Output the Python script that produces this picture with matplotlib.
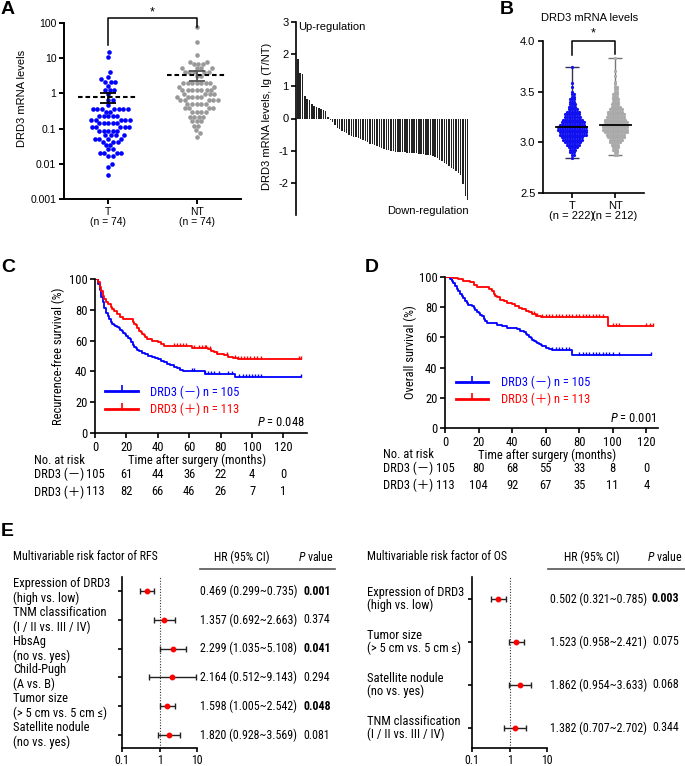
import numpy as np
import matplotlib
matplotlib.use("Agg")
import matplotlib.pyplot as plt
from matplotlib.lines import Line2D
from matplotlib import transforms, font_manager

plt.rcParams['font.family'] = ['Liberation Sans', 'Noto Sans CJK SC', 'DejaVu Sans']
plt.rcParams['axes.unicode_minus'] = False

# narrow face for the lower panels, if the system has one
_names = {f.name for f in font_manager.fontManager.ttflist}
NARROW = ['Liberation Sans', 'Noto Sans CJK SC', 'DejaVu Sans']
NS = 8.0
ITAL = 'Liberation Sans:italic'
for cand in ['Liberation Sans Narrow', 'Arial Narrow', 'Roboto Condensed', 'PT Sans Narrow',
             'Archivo Narrow']:
    if cand in _names:
        NARROW = [cand, 'Noto Sans CJK SC', 'DejaVu Sans']
        NS = 9.0
        ITAL = cand + ':italic'
        break
plt.rcParams['mathtext.fontset'] = 'custom'
plt.rcParams['mathtext.rm'] = NARROW[0]
plt.rcParams['mathtext.it'] = ITAL

# ---- panel A: scatter, DRD3 mRNA levels (value rows, count per row)
a_t_levels = [14.8, 11.0, 4.0, 3.0, 2.5, 2.1, 1.66, 1.26, 0.95, 0.65, 0.47, 0.35, 0.30, 0.23,
              0.17, 0.14, 0.11, 0.087, 0.066, 0.052, 0.043, 0.034, 0.026, 0.020, 0.017,
              0.010, 0.0083, 0.0048]
a_t_counts = [1, 1, 1, 1, 1, 3, 1, 3, 1, 2, 1, 7, 2, 5, 5, 5, 5, 5, 4, 4, 3, 2, 2, 4, 2, 1, 1, 1]
a_nt_levels = [76, 29.5, 12.3, 7.9, 6.8, 5.1, 4.0, 3.2, 2.0, 1.55, 1.26, 0.95, 0.79, 0.63,
               0.50, 0.38, 0.30, 0.21, 0.16, 0.12, 0.091, 0.074, 0.059]
a_nt_counts = [1, 1, 1, 2, 3, 4, 5, 2, 7, 2, 7, 4, 5, 5, 5, 4, 4, 4, 3, 2, 1, 1, 1]

# ---- panel A right: waterfall lg(T/NT)
wf_values = [1.85, 1.42, 1.38, 0.70, 0.60, 0.56, 0.45, 0.40, 0.35, 0.32, 0.30, 0.27, 0.22, 0.05,
             -0.05, -0.12, -0.2, -0.28, -0.33, -0.38, -0.42, -0.46, -0.5, -0.53,
             -0.56, -0.58, -0.61, -0.64, -0.67, -0.7, -0.74, -0.78, -0.8, -0.83,
             -0.86, -0.89, -0.92, -0.95, -0.97, -0.99, -1.0, -1.02, -1.03, -1.04,
             -1.04, -1.05, -1.05, -1.06, -1.06, -1.07, -1.07, -1.08, -1.09, -1.1,
             -1.11, -1.12, -1.13, -1.15, -1.17, -1.2, -1.24, -1.28, -1.33, -1.38,
             -1.43, -1.48, -1.53, -1.58, -1.63, -1.68, -1.75, -2.05, -2.4, -2.52]

# ---- panel B: swarm (value, count)
b_t_vals = [2.85, 2.875, 2.9, 2.925, 2.95, 2.975, 3.0, 3.025, 3.05, 3.075, 3.1, 3.125, 3.15,
            3.175, 3.2, 3.225, 3.25, 3.275, 3.3, 3.325, 3.35, 3.375, 3.4, 3.425, 3.45, 3.475,
            3.5, 3.55, 3.59, 3.74]
b_t_counts = [1, 2, 3, 4, 6, 8, 10, 12, 13, 16, 16, 17, 17, 15, 14, 12, 10, 9, 8, 6, 5, 4, 3,
              3, 2, 2, 1, 1, 1, 1]
b_nt_vals = [2.875, 2.9, 2.925, 2.95, 2.975, 3.0, 3.025, 3.05, 3.075, 3.1, 3.125, 3.15, 3.175,
             3.2, 3.225, 3.25, 3.275, 3.3, 3.325, 3.35, 3.375, 3.4, 3.425, 3.45, 3.475, 3.5,
             3.525, 3.55, 3.575, 3.6, 3.65, 3.7, 3.83]
b_nt_counts = [2, 2, 3, 4, 5, 7, 8, 10, 11, 14, 15, 15, 15, 14, 13, 11, 10, 9, 8, 6, 5, 4, 4,
               3, 3, 2, 2, 2, 1, 1, 1, 1, 1]

# ---- panel C: recurrence-free survival (step times / survival %)
c_neg_t = [0, 2, 3, 4, 5, 6, 7, 8, 9, 10, 11, 12, 13, 14, 15, 16, 17, 18, 19, 20, 21, 22, 23,
           24, 25, 26, 27, 28, 30, 32, 34, 36, 38, 40, 42, 44, 46, 48, 50, 52, 54, 56, 70, 89]
c_neg_s = [100, 97, 93, 88, 85, 81, 78, 76, 74, 72, 71, 70, 69.5, 69, 68, 67, 66, 65, 64, 63,
           62, 61, 59, 57, 56, 55, 54, 53, 52, 51, 50, 49.5, 49, 48, 47, 46, 45, 44, 43, 42,
           41, 40.5, 38.5, 36.2]
c_neg_cens = [62, 63, 70, 72, 74, 76, 79, 85, 87, 92, 94, 96, 98, 100, 102, 104, 106, 131]
c_pos_t = [0, 2, 3, 4, 5, 6, 7, 8, 10, 11, 12, 14, 16, 18, 24, 25, 26, 27, 28, 29, 30, 31, 32,
           33, 36, 40, 42, 44, 62, 72, 74, 76, 78, 80, 82, 85, 88, 91]
c_pos_s = [100, 98, 95, 92, 89, 87, 85, 84, 82, 80.5, 79, 77, 75.5, 74, 72, 71, 70, 68, 66.5,
           65.5, 64.5, 63.5, 62.5, 61, 60, 59, 58, 56.5, 55.5, 54.5, 53.5, 52.5, 51.5, 51,
           50.5, 49.5, 49, 48]
c_pos_cens = [50, 52, 54, 56, 58, 63, 66, 68, 70, 71, 73, 78, 84, 89, 91, 93, 95, 97, 99, 101,
              103, 106, 130, 131]
c_end = 131

# ---- panel D: overall survival
d_neg_t = [0, 3, 4, 5, 6, 7, 8, 9, 10, 11, 12, 13, 14, 16, 17, 18, 19, 20, 21, 22, 23, 24, 25,
           31, 34, 37, 43, 45, 47, 48, 49, 50, 51, 52, 53, 54, 55, 56, 57, 58, 60, 62, 64, 76]
d_neg_s = [100, 99, 97.5, 96, 94, 92, 90.5, 89, 87.5, 86, 84, 82.5, 81.5, 80.5, 79.5, 78, 77,
           76, 75, 74, 72.5, 71, 69.5, 68.5, 67.5, 66.5, 65.5, 64.5, 63.5, 62.5, 61.5, 60.5,
           59.5, 58.5, 57.5, 57, 56, 55.5, 55, 54, 53, 52.3, 51.5, 48.5]
d_neg_cens = [64, 66, 68, 70, 72, 74, 80, 82, 84, 86, 88, 90, 92, 94, 96, 98, 100, 104, 123]
d_neg_end = 123
d_pos_t = [0, 5, 8, 11, 15, 17, 19, 26, 28, 29, 30, 31, 33, 35, 37, 40, 42, 44, 46, 48, 50,
           52, 54, 57, 97]
d_pos_s = [100, 99.2, 98.4, 97.5, 96.5, 95, 93.5, 92, 90.5, 89, 87.5, 86.5, 85, 84, 83, 82,
           80.5, 79.5, 78.5, 77.5, 76.5, 75.5, 74.5, 73.3, 67.5]
d_pos_cens = [53, 55, 58, 60, 62, 64, 66, 68, 70, 72, 74, 76, 78, 80, 82, 84, 86, 88, 90, 92,
              94, 100, 102, 104, 120, 122, 124]
d_pos_end = 124

risk_times = [0, 20, 40, 60, 80, 100, 120]
c_risk_neg = [105, 61, 44, 36, 22, 4, 0]
c_risk_pos = [113, 82, 66, 46, 26, 7, 1]
d_risk_neg = [105, 80, 68, 55, 33, 8, 0]
d_risk_pos = [113, 104, 92, 67, 35, 11, 4]

# ---- panel E: forest plots
rfs_labels = ["Expression of DRD3\n(high vs. low)", "TNM classification\n(I / II vs. III / IV)",
              "HbsAg\n(no vs. yes)", "Child-Pugh\n(A vs. B)",
              "Tumor size\n(> 5 cm vs. 5 cm ≤)", "Satellite nodule\n(no vs. yes)"]
rfs_hr = [0.469, 1.357, 2.299, 2.164, 1.598, 1.820]
rfs_lo = [0.299, 0.692, 1.035, 0.512, 1.005, 0.928]
rfs_hi = [0.735, 2.663, 5.108, 9.143, 2.542, 3.569]
rfs_p = ["0.001", "0.374", "0.041", "0.294", "0.048", "0.081"]

os_labels = ["Expression of DRD3\n(high vs. low)", "Tumor size\n(> 5 cm vs. 5 cm ≤)",
             "Satellite nodule\n(no vs. yes)", "TNM classification\n(I / II vs. III / IV)"]
os_hr = [0.502, 1.523, 1.862, 1.382]
os_lo = [0.321, 0.958, 0.954, 0.707]
os_hi = [0.785, 2.421, 3.633, 2.702]
os_p = ["0.003", "0.075", "0.068", "0.344"]

BLUE = "#0000ff"
RED = "#ff0000"
W, H = 685, 766
fig = plt.figure(figsize=(W / 100, H / 100), dpi=100)


def px_axes(x0, y0, x1, y1):
    """axes from pixel box (top-left origin)"""
    return fig.add_axes([x0 / W, 1 - y1 / H, (x1 - x0) / W, (y1 - y0) / H])


def style(ax, size, lw=1.2):
    for s in ("top", "right"):
        ax.spines[s].set_visible(False)
    for s in ("left", "bottom"):
        ax.spines[s].set_linewidth(lw)
    ax.tick_params(direction="out", length=3.5, width=lw, labelsize=size, pad=2)


def beeswarm(ypx, d):
    """x offsets (pixels) so that no two points are closer than d"""
    order = np.argsort(ypx, kind="stable")
    xs = np.zeros(len(ypx))
    placed = []
    for i in order:
        y = ypx[i]
        near = [(xp, yp) for xp, yp in placed if abs(yp - y) < d]
        cands = [0.0]
        for xp, yp in near:
            dx = np.sqrt(d * d - (yp - y) ** 2)
            cands += [xp + dx, xp - dx]
        cands.sort(key=abs)
        for c in cands:
            if all((c - xp) ** 2 + (y - yp) ** 2 >= d * d - 1e-6 for xp, yp in near):
                xs[i] = c
                break
        placed.append((xs[i], y))
    return xs


def letter(x, y, s):
    fig.text(x / W, 1 - y / H, s, fontsize=14, fontweight="bold", ha="left", va="center")


# ================= A: scatter
ax = px_axes(64, 23, 241, 199)
style(ax, 7.5, 1.4)
ax.set_yscale("log")
ax.set_ylim(1e-3, 1e2)
ax.set_xlim(-0.5, 1.5)
ax.minorticks_off()
ax.set_yticks([1e-3, 1e-2, 1e-1, 1, 10, 100])
ax.set_yticklabels(["0.001", "0.01", "0.1", "1", "10", "100"])
ax.set_xticks([0, 1])
ax.set_xticklabels(["T\n(n = 74)", "NT\n(n = 74)"], linespacing=1.1)
groups = [(np.repeat(a_t_levels, a_t_counts), BLUE, "black"),
          (np.repeat(a_nt_levels, a_nt_counts), "#999999", "#555555")]
for i, (v, col, ecol) in enumerate(groups):
    xs = beeswarm(np.log10(v) * 35.2, 4.6) / 89.0
    ax.plot(i + xs, v, "o", ms=3.3, mec="none", color=col, zorder=2)
    m = v.mean()
    se = v.std(ddof=1) / np.sqrt(len(v))
    ax.plot([i - 0.34, i + 0.34], [m, m], ls=(0, (2.2, 1.4)), color="black", lw=1.5, zorder=3)
    ax.errorbar(i, m, yerr=se, color=ecol, capsize=6, lw=1.3, capthick=1.3, zorder=3)
ax.text(-0.237, 0.57, "DRD3 mRNA levels", rotation=90, transform=ax.transAxes,
        ha="center", va="center", fontsize=8)
tr = transforms.blended_transform_factory(ax.transData, ax.transAxes)
ax.plot([0, 0, 1, 1], [0.875, 1.028, 1.028, 0.977], color="black", lw=1.1,
        transform=tr, clip_on=False)
ax.text(0.5, 1.06, "*", transform=tr, ha="center", va="center", fontsize=9)
letter(1, 9, "A")

# ================= A right: waterfall
ax = px_axes(296, 22, 470, 215)
style(ax, 8, 1.2)
ax.spines["bottom"].set_visible(False)
ax.bar(np.arange(len(wf_values)), wf_values, width=0.62, color="#222222", lw=0)
ax.set_xlim(-0.8, 74)
ax.set_ylim(-3, 3)
ax.set_xticks([])
ax.set_yticks([-2, -1, 0, 1, 2, 3])
ax.text(-0.167, 0.51, "DRD3 mRNA levels, lg (T/NT)", rotation=90, transform=ax.transAxes,
        ha="center", va="center", fontsize=8)
ax.text(0.012, 0.974, "Up-regulation", transform=ax.transAxes, ha="left", va="center",
        fontsize=8)
ax.text(0.995, 0.02, "Down-regulation", transform=ax.transAxes, ha="right", va="center",
        fontsize=8)

# ================= B: swarm
ax = px_axes(543, 41, 644, 193)
style(ax, 8, 1.2)
ax.set_ylim(2.5, 4.0)
ax.set_xlim(-0.67, 1.67)
ax.set_yticks([2.5, 3.0, 3.5, 4.0])
ax.set_yticklabels(["2.5", "3.0", "3.5", "4.0"])
ax.set_xticks([0, 1])
ax.set_xticklabels(["T\n(n = 222)", "NT\n(n = 212)"], linespacing=1.0)
bgroups = [(np.repeat(b_t_vals, b_t_counts), "#1010f0", "#333355"),
           (np.repeat(b_nt_vals, b_nt_counts), "#aaaaaa", "#777777")]
for i, (v, col, ecol) in enumerate(bgroups):
    xs = beeswarm(v * (152 / 1.5), 1.7) / 43.0
    med = np.median(v)
    ax.errorbar(i, med, yerr=[[med - v.min()], [v.max() - med]],
                color=ecol, capsize=5, lw=1.0, capthick=1.0, zorder=1)
    ax.plot(i + xs, v, "o", ms=2.3, mec="none", color=col, zorder=2)
    ax.plot([i - 0.36, i + 0.36], [med, med], color="black", lw=1.3, zorder=3)
ax.plot([0, 0, 1, 1], [3.86, 4.0, 4.0, 3.875], color="black", lw=1.1, clip_on=False)
ax.text(0.5, 4.07, "*", ha="center", va="center", fontsize=9)
ax.text(0.465, 1.15, "DRD3 mRNA levels", transform=ax.transAxes, ha="center", va="center",
        fontsize=8)
letter(500, 9, "B")


# ================= C / D: Kaplan-Meier
def km(ax, t, s, end, cens, color):
    ax.step(list(t) + [end], list(s) + [s[-1]], where="post", color=color, lw=1.3)
    idx = np.searchsorted(t, cens, side="right") - 1
    ax.plot(cens, np.array(s)[idx], ls="none", marker=[(0, 0), (0, 1)], ms=5, mew=1,
            color=color)


def km_panel(box, xmax, neg, pos, risk_neg, risk_pos, ylab, pval, leg_y, ylab_x):
    ax = px_axes(*box)
    style(ax, 8.5, 1.2)
    km(ax, *neg, BLUE)
    km(ax, *pos, RED)
    ax.set_xlim(0, xmax)
    ax.set_ylim(0, 100)
    ax.set_xticks(risk_times)
    ax.set_yticks([0, 20, 40, 60, 80, 100])
    for lbl in ax.get_xticklabels() + ax.get_yticklabels():
        lbl.set_fontfamily(NARROW)
        lbl.set_fontsize(NS)
    kw = dict(fontsize=NS, family=NARROW)
    ax.text(ylab_x, 0.5, ylab, rotation=90, transform=ax.transAxes, ha="center",
            va="center", **kw)
    ax.text(0.99, 0.065, "$P$ = " + pval, transform=ax.transAxes, ha="right", va="center",
            **kw)
    handles = [Line2D([], [], color=BLUE, lw=2, marker=[(0, 0), (0, 1)], ms=8, mew=1.2),
               Line2D([], [], color=RED, lw=2, marker=[(0, 0), (0, 1)], ms=8, mew=1.2)]
    lg = ax.legend(handles, ["DRD3 (－) n = 105", "DRD3 (＋) n = 113"], loc="center left",
                   bbox_to_anchor=(0.02, leg_y), frameon=False,
                   prop={"family": NARROW, "size": NS},
                   handlelength=2.6, labelspacing=0.3, handletextpad=1.0, borderpad=0)
    for txt, c in zip(lg.get_texts(), (BLUE, RED)):
        txt.set_color(c)
    tr = transforms.blended_transform_factory(ax.transData, ax.transAxes)
    ax.text(-0.29, -0.178, "No. at risk", transform=ax.transAxes, ha="left", va="center", **kw)
    ax.text(0.48, -0.178, "Time after surgery (months)", transform=ax.transAxes,
            ha="center", va="center", **kw)
    for row, (lab, vals) in enumerate((("DRD3 (－)", risk_neg), ("DRD3 (＋)", risk_pos))):
        y = -0.27 - 0.112 * row
        ax.text(-0.29, y, lab, transform=ax.transAxes, ha="left", va="center", **kw)
        for t, n in zip(risk_times, vals):
            ax.text(t, y, str(n), transform=tr, ha="center", va="center", **kw)
    return ax


km_panel((95, 279, 307, 433), 135, (c_neg_t, c_neg_s, c_end, c_neg_cens),
         (c_pos_t, c_pos_s, c_end, c_pos_cens), c_risk_neg, c_risk_pos,
         "Recurrence-free survival (%)", "0.048", 0.21, -0.175)
letter(1, 267, "C")
km_panel((445, 277, 658, 428), 127, (d_neg_t, d_neg_s, d_neg_end, d_neg_cens),
         (d_pos_t, d_pos_s, d_pos_end, d_pos_cens), d_risk_neg, d_risk_pos,
         "Overall survival (%)", "0.001", 0.245, -0.164)
letter(365, 267, "D")


# ================= E: forest plots
ES = NS - 0.4


def forest(box, ylim, labels, hr, lo, hi, pvals, xl, xh, xp, title, line, lsp):
    ax = px_axes(*box)
    style(ax, ES, 1.2)
    ax.tick_params(axis="x", length=3, pad=1)
    ax.set_xscale("log")
    ax.set_xlim(0.1, 10)
    ax.set_ylim(*ylim)
    ax.minorticks_off()
    ax.set_xticks([0.1, 1, 10])
    ax.set_xticklabels(["0.1", "1", "10"], family=NARROW)
    rows = np.arange(len(hr))
    ax.set_yticks(rows)
    ax.set_yticklabels([])
    ax.tick_params(axis="y", length=3)
    ax.axvline(1, color="#333333", lw=0.8, ls=(0, (1, 1.5)), zorder=0)
    hr = np.array(hr)
    ax.errorbar(hr, rows, xerr=[hr - np.array(lo), np.array(hi) - hr], fmt="o", ms=3.2,
                color=RED, ecolor="#222222", elinewidth=1.0, capsize=2, capthick=1.0)
    tr = transforms.blended_transform_factory(fig.transFigure, ax.transData)
    kw = dict(fontsize=ES, family=NARROW)
    for r in rows:
        ax.text(xl / W, r, labels[r], transform=tr, ha="left", va="center",
                linespacing=lsp, fontsize=NS, family=NARROW)
        ax.text(xh / W, r, "%.3f (%.3f~%.3f)" % (hr[r], lo[r], hi[r]), transform=tr,
                ha="left", va="center", **kw)
        ax.text(xp / W, r, pvals[r], transform=tr, ha="left", va="center",
                fontweight="bold" if float(pvals[r]) < 0.05 else "normal", **kw)
    fy = 1 - 557 / H
    fig.text(xl / W, fy, title, ha="left", va="center", **kw)
    fig.text((xh + 42) / W, fy, "HR (95% CI)", ha="center", va="center", **kw)
    fig.text((xp - 5) / W, fy, "$P$ value", ha="left", va="center", **kw)
    fig.add_artist(Line2D([line[0] / W, line[1] / W], [1 - 569 / H] * 2, color="#555555",
                          lw=1.2))


forest((122, 577, 197, 748), (5.45, -0.49), rfs_labels, rfs_hr, rfs_lo, rfs_hi, rfs_p,
       13, 200, 303, "Multivariable risk factor of RFS", (200, 335), 1.15)
forest((472, 577, 547, 748), (3.47, -0.51), os_labels, os_hr, os_lo, os_hi, os_p,
       367, 550, 652, "Multivariable risk factor of OS", (548, 685), 1.0)
letter(1, 532, "E")

fig.savefig("out.png", dpi=100, facecolor="white")
